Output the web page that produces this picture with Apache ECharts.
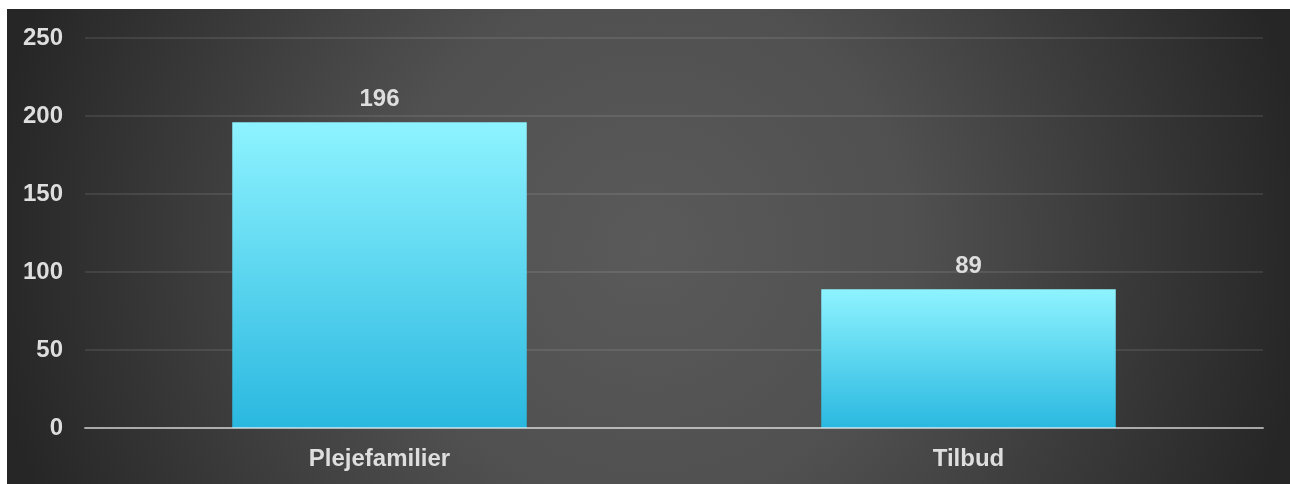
<!DOCTYPE html>
<html>
<head>
<meta charset="utf-8">
<script src="https://cdn.jsdelivr.net/npm/echarts@6/dist/echarts.min.js"></script>
<style>
  html, body { margin: 0; padding: 0; background: #ffffff; width: 1290px; height: 484px; overflow: hidden; }
  #chart {
    position: absolute; left: 7px; top: 9px; width: 1283px; height: 475px;
    background: radial-gradient(circle 660px at 50% 50%, #5a5a5a 0%, #505050 40%, #262626 100%);
  }
</style>
</head>
<body>
<div id="chart"></div>
<script>
const categories = ['Plejefamilier', 'Tilbud'];
const values = [196, 89];
const yTicks = { min: 0, max: 250, interval: 50 };

const chart = echarts.init(document.getElementById('chart'), null, { renderer: 'canvas' });
const font = '"Liberation Sans", Arial, sans-serif';
const textColor = '#dedede';

chart.setOption({
  backgroundColor: 'transparent',
  animation: false,
  grid: { left: 78, right: 27, top: 29, bottom: 56 },
  xAxis: {
    type: 'category',
    data: categories,
    z: 5,
    axisLine: { show: true, lineStyle: { color: 'rgba(255,255,255,0.55)', width: 2 } },
    axisTick: { show: false },
    axisLabel: { color: textColor, fontSize: 24, fontWeight: 'bold', fontFamily: font, margin: 19 }
  },
  yAxis: {
    type: 'value',
    min: yTicks.min, max: yTicks.max, interval: yTicks.interval,
    axisLine: { show: false },
    axisTick: { show: false },
    axisLabel: { color: textColor, fontSize: 24, fontWeight: 'bold', fontFamily: font, margin: 22 },
    splitLine: { show: true, lineStyle: { color: 'rgba(255,255,255,0.09)', width: 2 } }
  },
  series: [{
    type: 'bar',
    data: values,
    barWidth: '50%',
    itemStyle: {
      color: new echarts.graphic.LinearGradient(0, 0, 0, 1, [
        { offset: 0, color: '#8ef3ff' },
        { offset: 1, color: '#2ab8e0' }
      ])
    },
    label: {
      show: true, position: 'top', distance: 11,
      color: textColor, fontSize: 24, fontWeight: 'bold', fontFamily: font
    }
  }]
});
</script>
</body>
</html>
